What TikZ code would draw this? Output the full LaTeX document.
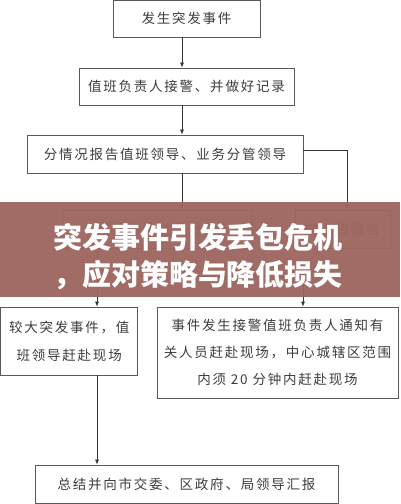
\documentclass[tikz,border=0pt]{standalone}
\usepackage{fontspec}
\usepackage{tikz}
\usetikzlibrary{arrows.meta}
\newfontfamily\cjk{Noto Sans CJK SC}[LetterSpace=13]
\newfontfamily\cjkhead{Noto Sans CJK SC}[BoldFont={Noto Sans CJK SC Black}]
\definecolor{bandred}{HTML}{9E6660}
\definecolor{boxline}{HTML}{5A5A5A}
\definecolor{boxtext}{HTML}{3C3C3C}

\begin{document}
\begin{tikzpicture}[x=1pt,y=-1pt,
    box/.style={draw=boxline, line width=0.8pt, inner sep=0pt, align=center,
        text=boxtext, font=\cjk\fontsize{13.5}{15}\selectfont},
    arr/.style={draw=black!80, line width=0.7pt, -{Latex[length=5pt,width=4pt]}}]
                \useasboundingbox (0,0) rectangle (400,504);
                \node[box, minimum width=147pt, minimum height=36.5pt] (start) at (186.5,18.75) {发生突发事件};
                \node[box, minimum width=215pt, minimum height=37pt] (duty) at (186.5,86.5) {值班负责人接警、并做好记录};
                \node[box, minimum width=276pt, minimum height=38pt] (report) at (165,154) {分情况报告值班领导、业务分管领导};
                \node[box, minimum width=190pt, minimum height=38pt] (sort) at (157,229) {根据事件性质分类};
                \node[box, minimum width=95pt, minimum height=38pt] (upper) at (342.5,229) {向上级报告};
                \node[box, minimum width=137pt, minimum height=68pt, font=\cjk\fontsize{13.5}{28}\selectfont] (major) at (69.25,341) {较大突发事件，值\\班领导赶赴现场};
                \node[box, minimum width=241pt, minimum height=91pt, font=\cjk\fontsize{13.5}{27}\selectfont] (notify) at (277.5,352.5) {事件发生接警值班负责人通知有\\关人员赶赴现场，中心城辖区范围\\内须 20 分钟内赶赴现场};
                \node[box, minimum width=303pt, minimum height=38pt] (summary) at (186.5,484) {总结并向市交委、区政府、局领导汇报};
                \coordinate (mid) at (182,0);
                \coordinate (left) at (97,0);
                \coordinate (turn) at (173,0);
                \coordinate (right) at (303,0);
                \draw[arr] (start.south -| mid) -- (duty.north -| mid);
                \draw[arr] (duty.south -| mid) -- (report.north -| mid);
                \draw[arr] (report.south -| mid) -- (sort.north -| mid);
                \draw[arr] ([yshift=4pt]report.east) -| ([xshift=4.5pt]upper.north);
                \draw[arr] (sort.south -| left) -- (major.north -| left);
                \draw[arr] (sort.south -| turn) -- ++(0,28) -| (notify.north -| right);
                \draw[arr] (major.south -| left) -- (summary.north -| left);
                % banner across the middle
                \fill[bandred, fill opacity=0.96] (0,202) rectangle (400,297);
                \node[text=white, align=center, font=\cjkhead\bfseries\fontsize{29}{37}\selectfont] (title) at (198,257) {突发事件引发丢包危机\\，应对策略与降低损失};
            \end{tikzpicture}
\end{document}
